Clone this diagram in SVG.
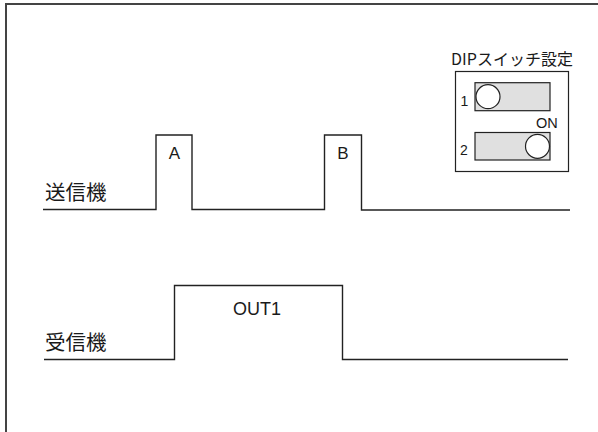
<svg xmlns="http://www.w3.org/2000/svg" width="598" height="432" viewBox="0 0 598 432">
<style>
.w{fill:none;stroke:#222;stroke-width:1.4}
.t{font-family:"Liberation Sans","Noto Sans CJK JP",sans-serif;fill:#1a1a1a}
.j{font-family:"Noto Sans CJK JP","Liberation Sans",sans-serif;fill:#1a1a1a}
.sw{fill:#e0e0e0;stroke:#222;stroke-width:1.2}
.k{fill:#fff;stroke:#222;stroke-width:1.2}
</style>
<rect x="0" y="0" width="598" height="432" fill="#fff"/>
<g id="frame"><path d="M6,433 V4 H599" fill="none" stroke="#444" stroke-width="2"/></g>
<g id="connectors">
<polyline id="sender-wave" class="w" points="43,209.5 156,209.5 156,135 192,135 192,209.5 324.5,209.5 324.5,135 361.5,135 361.5,210 570,210"/>
<polyline id="receiver-wave" class="w" points="44,359.5 174.5,359.5 174.5,285.5 342.5,285.5 342.5,359.5 568,359.5"/>
</g>
<g id="label-sender"><text class="j" x="45" y="199.5" font-size="20.5">送信機</text></g>
<g id="label-receiver"><text class="j" x="45" y="349.5" font-size="20.5">受信機</text></g>
<g id="pulse-A"><text class="t" x="174.3" y="158.5" font-size="17" text-anchor="middle">A</text></g>
<g id="pulse-B"><text class="t" x="342.8" y="158.5" font-size="17" text-anchor="middle">B</text></g>
<g id="out1"><text class="t" x="257" y="315" font-size="18" text-anchor="middle">OUT1</text></g>
<g id="dip">
<text class="j" x="512" y="65" font-size="16" text-anchor="middle">DIPスイッチ設定</text>
<rect x="455.5" y="71.5" width="113" height="100" fill="#fff" stroke="#222" stroke-width="1.2"/>
<rect class="sw" x="475" y="82.7" width="75" height="28"/>
<circle class="k" cx="488" cy="96.7" r="12"/>
<text class="t" x="460.5" y="106" font-size="14">1</text>
<text class="t" x="546.8" y="128" font-size="14.5" text-anchor="middle">ON</text>
<rect class="sw" x="475" y="132.5" width="75" height="27.5"/>
<circle class="k" cx="537.5" cy="146.3" r="12"/>
<text class="t" x="460" y="155" font-size="14">2</text>
</g>
</svg>
